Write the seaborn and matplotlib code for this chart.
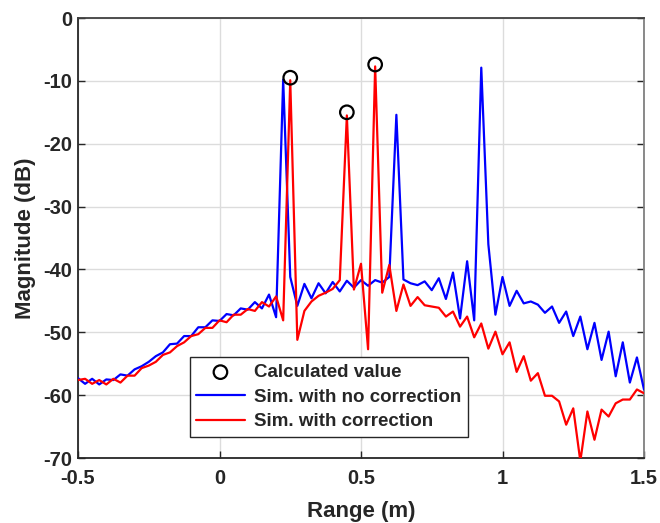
import numpy as np
import pandas as pd
import matplotlib
matplotlib.use("Agg")
import matplotlib.pyplot as plt
import seaborn as sns

# Range samples (m)
range_m = np.arange(81) * 0.025 - 0.5

no_corr = [-57.3, -58.2, -57.4, -58.3, -57.5, -57.6, -56.7, -56.9, -55.9, -55.4,
           -54.7, -53.8, -53.2, -51.9, -51.8, -50.6, -50.6, -49.2, -49.2, -48.1,
           -48.2, -47.1, -47.3, -46.2, -46.4, -45.2, -46.2, -44.0, -47.6, -9.8,
           -41.2, -45.8, -42.3, -44.6, -42.2, -43.8, -42.0, -43.5, -41.8, -42.9,
           -41.7, -42.6, -41.7, -42.1, -41.2, -15.4, -41.6, -42.2, -42.5, -41.9,
           -43.3, -41.4, -44.7, -40.5, -47.8, -38.7, -48.1, -7.9, -36.0, -47.2,
           -41.2, -45.8, -43.4, -45.4, -45.1, -45.6, -46.9, -45.9, -48.5, -46.7,
           -50.6, -47.5, -52.7, -48.5, -54.4, -49.9, -57.0, -51.6, -58.0, -54.0,
           -59.1]

with_corr = [-57.6, -57.4, -58.2, -57.6, -58.3, -57.4, -58.0, -56.9, -56.9, -55.7,
             -55.3, -54.7, -53.6, -53.2, -52.2, -51.6, -50.6, -50.3, -49.3, -49.3,
             -48.1, -48.4, -47.2, -47.2, -46.3, -46.6, -45.2, -45.9, -44.3, -48.1,
             -9.9, -51.2, -46.6, -45.1, -44.2, -43.7, -43.1, -41.7, -15.5, -43.2,
             -39.1, -52.7, -7.7, -43.7, -39.3, -46.6, -42.4, -45.8, -44.4, -45.7,
             -45.9, -46.1, -47.5, -46.7, -49.1, -47.5, -50.8, -48.6, -52.6, -49.9,
             -53.5, -51.6, -56.3, -53.8, -57.7, -56.5, -60.1, -60.1, -61.0, -64.7,
             -62.1, -70.5, -62.6, -67.1, -62.3, -63.4, -61.3, -60.7, -60.7, -59.1,
             -59.7]

calc_x = [0.25, 0.45, 0.55]
calc_y = [-9.5, -15.0, -7.4]

x_ticks = [-0.5, 0, 0.5, 1, 1.5]
x_tick_labels = ["-0.5", "0", "0.5", "1", "1.5"]
y_ticks = [0, -10, -20, -30, -40, -50, -60, -70]

sns.set_theme(style="whitegrid")
plt.rcParams['font.family'] = ['Liberation Sans', 'DejaVu Sans']
plt.rcParams['font.weight'] = 'bold'

fig = plt.figure(figsize=(6.6, 5.23), dpi=100)
ax = fig.add_axes([78/660, 1 - 458/523, (644-78)/660, (458-18)/523])

df_blue = pd.DataFrame({"x": range_m, "y": no_corr})
df_red = pd.DataFrame({"x": range_m, "y": with_corr})
df_calc = pd.DataFrame({"x": calc_x, "y": calc_y})

sns.lineplot(data=df_blue, x="x", y="y", ax=ax, color="#0000ff", lw=1.6,
             label="Sim. with no correction", zorder=3)
sns.lineplot(data=df_red, x="x", y="y", ax=ax, color="#ff0000", lw=1.6,
             label="Sim. with correction", zorder=4)
sns.scatterplot(data=df_calc, x="x", y="y", ax=ax, marker="o", s=95,
                facecolor="none", edgecolor="black", linewidth=1.6,
                label="Calculated value", zorder=5)

ax.set_xlim(-0.5, 1.5)
ax.set_ylim(-70, 0)
ax.set_xticks(x_ticks)
ax.set_xticklabels(x_tick_labels)
ax.set_yticks(y_ticks)
ax.set_yticklabels([str(v) for v in y_ticks])
ax.tick_params(axis='both', direction='in', length=5, width=1, color='#262626',
               labelsize=14.5, labelcolor='#262626', top=False, right=True,
               bottom=True, left=True)
ax.tick_params(axis='x', pad=8)
ax.tick_params(axis='y', pad=4)
for lab in ax.get_xticklabels() + ax.get_yticklabels():
    lab.set_fontweight('bold')
ax.grid(True, color='#dcdcdc', lw=1)
for s in ax.spines.values():
    s.set_visible(True)
    s.set_color('#262626')
    s.set_linewidth(1.3)
ax.spines['right'].set_color('#808080')
ax.spines['top'].set_color('#404040')

ax.set_xlabel("Range (m)", fontsize=16, fontweight='bold', color='#262626', labelpad=9)
ax.set_ylabel("Magnitude (dB)", fontsize=16, fontweight='bold', color='#262626', labelpad=5)

h, l = ax.get_legend_handles_labels()
order = [2, 0, 1]
leg = ax.legend([h[i] for i in order], [l[i] for i in order],
                loc='lower left', bbox_to_anchor=(0.197, 0.048), borderaxespad=0,
                frameon=True, fancybox=False, edgecolor='#262626', framealpha=1,
                prop={'weight': 'bold', 'size': 13.5}, handlelength=2.6,
                handletextpad=0.5, borderpad=0.35, labelspacing=0.4)
leg.get_frame().set_linewidth(1.0)

fig.savefig("out.png", dpi=100)
